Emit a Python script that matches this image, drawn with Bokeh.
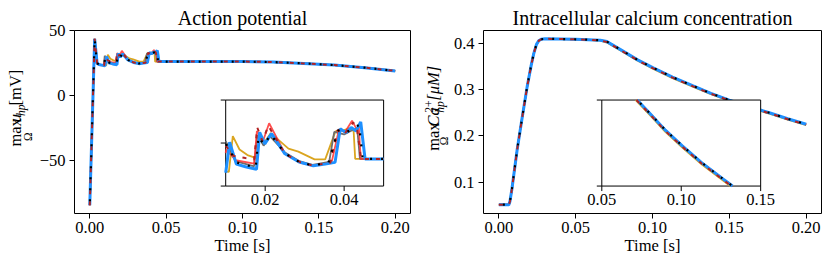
import numpy as np
from bokeh.plotting import figure
from bokeh.layouts import row
from bokeh.models import Range1d, FixedTicker, NumeralTickFormatter
from bokeh.embed import file_html
from bokeh.resources import INLINE
from bokeh.core.properties import value

FONT = "Liberation Serif"
TICK_PX = "16.5px"

# ---------------- Action potential data (time [s], max u_hp [mV]) ----------------
ap_head_t = [0.0000, 0.0032, 0.0048, 0.0060, 0.0075, 0.0088]
ap_head_v = [-84.2, 43.8, 25.0, 24.0, 23.6, 23.4]
ap_tail_t = [0.0470, 0.0600, 0.0800, 0.1000, 0.1200, 0.1400, 0.1600, 0.1800, 0.2000]
ap_tail_v = [26.3, 26.3, 26.3, 26.3, 25.9, 24.9, 23.6, 21.6, 19.1]

ap_gold_t = [0.0100, 0.0108, 0.0118, 0.0135, 0.0155, 0.0178, 0.0185, 0.0197, 0.0214, 0.0259,
             0.0284, 0.0325, 0.0352, 0.0378, 0.0400, 0.0412, 0.0424, 0.0428]
ap_gold_v = [23.4, 23.3, 31.6, 28.5, 27.2, 26.5, 31.0, 30.0, 32.3, 28.7,
             28.0, 26.2, 26.2, 32.7, 33.0, 33.4, 32.8, 26.3]

ap_gray_t = [0.0092, 0.0098, 0.0125, 0.0172, 0.0180, 0.0196, 0.0212, 0.0250, 0.0286, 0.0320,
             0.0362, 0.0375, 0.0400, 0.0425, 0.0433, 0.0440]
ap_gray_v = [23.4, 30.8, 25.8, 24.6, 31.8, 29.4, 31.6, 27.8, 25.8, 24.9,
             25.6, 32.6, 32.0, 33.2, 33.5, 26.3]

ap_red_t = [0.0095, 0.0101, 0.0125, 0.0172, 0.0179, 0.0195, 0.0210, 0.0250, 0.0290, 0.0320,
            0.0368, 0.0387, 0.0402, 0.0420, 0.0433, 0.0437, 0.0442]
ap_red_v = [23.4, 28.5, 26.0, 25.2, 32.8, 30.6, 34.6, 27.6, 25.4, 24.8,
            25.4, 33.2, 32.5, 35.2, 33.0, 34.0, 26.3]

ap_dark_t = [0.0094, 0.0100, 0.0120, 0.0150, 0.0172, 0.0180, 0.0193, 0.0208, 0.0250, 0.0290,
             0.0320, 0.0365, 0.0383, 0.0400, 0.0423, 0.0433, 0.0443]
ap_dark_v = [23.4, 29.4, 27.0, 26.5, 26.2, 33.6, 30.5, 34.0, 27.5, 25.5,
             24.8, 25.4, 33.0, 32.0, 34.8, 33.0, 26.3]

ap_blue_t = [0.0090, 0.0100, 0.0110, 0.0127, 0.0150, 0.0178, 0.0186, 0.0199, 0.0216, 0.0250,
             0.0286, 0.0322, 0.0352, 0.0377, 0.0390, 0.0405, 0.0418, 0.0430, 0.0442, 0.0453]
ap_blue_v = [23.3, 23.1, 30.2, 25.1, 24.5, 23.9, 32.5, 29.8, 32.2, 27.5,
             25.6, 24.7, 25.1, 25.5, 33.3, 32.4, 33.6, 32.8, 34.9, 26.3]

ap_black_t = [0.0094, 0.0101, 0.0127, 0.0176, 0.0183, 0.0197, 0.0214, 0.0250, 0.0286, 0.0320,
              0.0360, 0.0385, 0.0403, 0.0428, 0.0438, 0.0447]
ap_black_v = [23.4, 29.8, 25.5, 24.3, 31.5, 29.6, 32.0, 27.6, 25.6, 24.8,
              25.4, 33.0, 32.3, 33.8, 34.2, 26.3]

# ---------------- Calcium data (time [s], max Ca [uM]) ----------------
ca_t = [0.0, 0.0065, 0.0072, 0.0085, 0.0119, 0.0150, 0.0184, 0.0210, 0.0227, 0.0245,
        0.0260, 0.0275, 0.0300, 0.0500, 0.0660, 0.0703, 0.0800, 0.0900, 0.1005, 0.1130,
        0.1265, 0.1380, 0.1500, 0.1630, 0.1760, 0.1880, 0.2000]
ca_blue = [0.051, 0.051, 0.058, 0.085, 0.170, 0.236, 0.306, 0.352, 0.378, 0.398,
           0.406, 0.409, 0.410, 0.409, 0.407, 0.404, 0.385, 0.365, 0.347, 0.327,
           0.308, 0.292, 0.2775, 0.263, 0.250, 0.237, 0.225]
ca_gold = [0.051, 0.051, 0.058, 0.085, 0.170, 0.236, 0.306, 0.352, 0.378, 0.398,
           0.406, 0.409, 0.410, 0.409, 0.406, 0.402, 0.383, 0.363, 0.345, 0.325,
           0.306, 0.290, 0.2755, 0.261, 0.248, 0.235, 0.223]
ca_dark = [0.051, 0.051, 0.058, 0.085, 0.170, 0.236, 0.306, 0.352, 0.378, 0.398,
           0.406, 0.409, 0.410, 0.409, 0.4065, 0.403, 0.384, 0.364, 0.346, 0.326,
           0.307, 0.291, 0.2765, 0.262, 0.249, 0.236, 0.224]

# tick values / labels
ap_yticks = [-50, 0, 50]
ap_ylabels = {-50: "\u221250", 0: "0", 50: "50"}
ca_yticks = [0.1, 0.2, 0.3, 0.4]
time_ticks = [0.0, 0.05, 0.10, 0.15, 0.20]
ap_inset_x = (0.01, 0.05)
ap_inset_y = (20.0, 40.0)
ap_inset_xticks = [0.02, 0.04]
ap_inset_xlabels = ["0.02", "0.04"]
ap_inset_yticks = [20.0, 30.0, 40.0]
ca_inset_x = (0.05, 0.15)
ca_inset_y = (0.3, 0.4)
ca_inset_xticks = [0.05, 0.10, 0.15]
ca_inset_xlabels = ["0.05", "0.10", "0.15"]
ca_inset_yticks = [0.3, 0.4]
titles = ["Action potential", "Intracellular calcium concentration"]

# ---------------- styles ----------------
STYLES = {
    "gold": dict(line_color="#DAA520", line_width=1.8),
    "gray": dict(line_color="#6E6E6E", line_width=1.8),
    "red": dict(line_color="#FF3030", line_width=1.8, line_alpha=0.85),
    "blue": dict(line_color="#1E90FF", line_width=3.0),
    "dark": dict(line_color="#B22222", line_width=2.0, line_dash="4 7"),
    "black": dict(line_color="black", line_width=2.2, line_dash="2 9", line_dash_offset=7),
}
ORDER = ["gold", "gray", "red", "blue", "dark", "black"]

# layout (px); the page has no margin, so canvas px == picture px
FW, FH = 338, 183
TOP, BOT = 30, 54
H = TOP + FH + BOT
LF1_W, P1_L, P1_R = 36, 36, 2
LF2_W, P2_L, P2_R = 38, 33, 10


def clip_polyline(xs, ys, x0, x1, y0, y1):
    ox, oy = [], []
    for i in range(len(xs) - 1):
        ax, ay, bx, by = xs[i], ys[i], xs[i + 1], ys[i + 1]
        dx, dy = bx - ax, by - ay
        t0, t1, ok = 0.0, 1.0, True
        for pp, q in ((-dx, ax - x0), (dx, x1 - ax), (-dy, ay - y0), (dy, y1 - ay)):
            if pp == 0:
                if q < 0:
                    ok = False
                    break
            else:
                r = q / pp
                if pp < 0:
                    if r > t1:
                        ok = False
                        break
                    t0 = max(t0, r)
                else:
                    if r < t0:
                        ok = False
                        break
                    t1 = min(t1, r)
        if not ok:
            continue
        cx0, cy0 = ax + t0 * dx, ay + t0 * dy
        cx1, cy1 = ax + t1 * dx, ay + t1 * dy
        if not (ox and abs(ox[-1] - cx0) < 1e-12 and abs(oy[-1] - cy0) < 1e-12):
            if ox:
                ox.append(np.nan)
                oy.append(np.nan)
            ox.append(cx0)
            oy.append(cy0)
        ox.append(cx1)
        oy.append(cy1)
    return ox, oy


def inset_range(lo, hi, f0, f1):
    span = (hi - lo) / (f1 - f0)
    return Range1d(lo - f0 * span, lo - f0 * span + span)


def make_fig(title, yr, yticks, ml, mr):
    p = figure(width=ml + FW + mr, height=H, x_range=Range1d(-0.01, 0.21), y_range=yr,
               title=title, output_backend="svg", toolbar_location=None,
               min_border_left=ml, min_border_right=mr, min_border_top=TOP, min_border_bottom=BOT)
    p.title.text_font = FONT
    p.title.text_font_size = "20px"
    p.title.text_font_style = "normal"
    p.title.text_color = "black"
    p.title.align = "center"
    p.title.standoff = 4
    p.grid.visible = False
    p.outline_line_color = "black"
    p.outline_line_alpha = 1.0
    p.outline_line_width = 1
    p.background_fill_color = "white"
    p.border_fill_color = "white"
    for ax in (p.xaxis[0], p.yaxis[0]):
        ax.axis_line_color = None
        ax.major_tick_out = 5
        ax.major_tick_in = 0
        ax.minor_tick_out = 0
        ax.minor_tick_in = 0
        ax.major_tick_line_color = "black"
        ax.major_label_text_font = FONT
        ax.major_label_text_font_size = TICK_PX
        ax.major_label_text_color = "black"
    p.yaxis.major_label_standoff = 4
    p.xaxis.major_label_standoff = 3
    p.xaxis.ticker = FixedTicker(ticks=time_ticks)
    p.xaxis.formatter = NumeralTickFormatter(format="0.00")
    p.yaxis.ticker = FixedTicker(ticks=yticks)
    p.xaxis.axis_label = "Time [s]"
    p.xaxis.axis_label_text_font = FONT
    p.xaxis.axis_label_text_font_style = "normal"
    p.xaxis.axis_label_text_font_size = TICK_PX
    p.xaxis.axis_label_text_color = "black"
    p.xaxis.axis_label_standoff = 0
    return p


def blank_fig(w, h):
    f = figure(width=w, height=h, x_range=Range1d(0, w), y_range=Range1d(0, h), title=None,
               output_backend="svg", toolbar_location=None, x_axis_type=None, y_axis_type=None,
               min_border=0, min_border_left=0, min_border_right=0, min_border_top=0,
               min_border_bottom=0)
    f.grid.visible = False
    f.outline_line_color = None
    f.background_fill_color = "white"
    f.border_fill_color = "white"
    return f


def txt(f, s, x, y, size, style="normal", align="left", angle=np.pi / 2):
    # (x, y): text centre line / start, in the strip's own pixel coordinates
    f.text(x=[x], y=[y], text=[s], angle=angle, text_font=value(FONT),
           text_font_size=f"{size}px", text_font_style=style, text_align=align,
           text_baseline="middle", text_color="black")


def add_inset(p, series, xlim, ylim, fx, fy, xticks, xlabels, yticks):
    p.extra_x_ranges = {"ix": inset_range(xlim[0], xlim[1], fx[0], fx[1])}
    p.extra_y_ranges = {"iy": inset_range(ylim[0], ylim[1], fy[0], fy[1])}
    kw = dict(x_range_name="ix", y_range_name="iy")
    p.quad(left=[xlim[0]], right=[xlim[1]], bottom=[ylim[0]], top=[ylim[1]],
           fill_color="white", line_color="black", line_width=1, **kw)
    for name in ORDER:
        t, v = series[name]
        cx, cy = clip_polyline(t, v, xlim[0], xlim[1], ylim[0], ylim[1])
        p.line(cx, cy, **STYLES[name], **kw)
    wpx = (fx[1] - fx[0]) * FW
    hpx = (fy[1] - fy[0]) * FH
    dy = 5.0 / hpx * (ylim[1] - ylim[0])
    dx = 5.0 / wpx * (xlim[1] - xlim[0])
    p.segment(x0=xticks, x1=xticks, y0=[ylim[0]] * len(xticks), y1=[ylim[0] - dy] * len(xticks),
              line_color="black", line_width=1, **kw)
    p.segment(x0=[xlim[0]] * len(yticks), x1=[xlim[0] - dx] * len(yticks), y0=yticks, y1=yticks,
              line_color="black", line_width=1, **kw)
    p.text(x=xticks, y=[ylim[0]] * len(xticks), text=xlabels, y_offset=8,
           text_font=value(FONT), text_font_size=TICK_PX, text_align="center",
           text_baseline="top", text_color="black", **kw)


# ---------------- Left: action potential ----------------
ap_series = {
    "gold": (ap_head_t + ap_gold_t + ap_tail_t, ap_head_v + ap_gold_v + ap_tail_v),
    "gray": (ap_head_t + ap_gray_t + ap_tail_t, ap_head_v + ap_gray_v + ap_tail_v),
    "red": (ap_head_t + ap_red_t + ap_tail_t, ap_head_v + ap_red_v + ap_tail_v),
    "dark": (ap_head_t + ap_dark_t + ap_tail_t, ap_head_v + ap_dark_v + ap_tail_v),
    "blue": (ap_head_t + ap_blue_t + ap_tail_t, ap_head_v + ap_blue_v + ap_tail_v),
    "black": (ap_head_t + ap_black_t + ap_tail_t, ap_head_v + ap_black_v + ap_tail_v),
}

p1 = make_fig(titles[0], Range1d(-90.6, 50.2), ap_yticks, P1_L, P1_R)
p1.yaxis.major_label_overrides = ap_ylabels
for name in ORDER:
    t, v = ap_series[name]
    p1.line(t, v, **STYLES[name])
add_inset(p1, ap_series, ap_inset_x, ap_inset_y, (0.45, 0.92), (0.15, 0.62),
          ap_inset_xticks, ap_inset_xlabels, ap_inset_yticks)

# ---------------- Right: calcium ----------------
ca_series = {
    "gold": (ca_t, ca_gold),
    "gray": (ca_t, ca_blue),
    "red": (ca_t, ca_blue),
    "dark": (ca_t, ca_dark),
    "blue": (ca_t, ca_blue),
    "black": (ca_t, ca_blue),
}

p2 = make_fig(titles[1], Range1d(0.032, 0.428), ca_yticks, P2_L, P2_R)
p2.yaxis.formatter = NumeralTickFormatter(format="0.0")
for name in ORDER:
    t, v = ca_series[name]
    p2.line(t, v, **STYLES[name])
add_inset(p2, ca_series, ca_inset_x, ca_inset_y, (0.35, 0.82), (0.15, 0.62),
          ca_inset_xticks, ca_inset_xlabels, ca_inset_yticks)

# ---------------- y-axis label strips (middle-anchored rotated text) ----------------
cy = BOT + FH / 2          # frame centre, strip coordinates

lf1 = blank_fig(LF1_W, H)
fl = LF1_W + P1_L          # frame left, strip coordinates
y0 = cy - 47.8
txt(lf1, "max", fl - 57.1, y0, 16.5)
txt(lf1, "\u03a9", fl - 44.9, y0 + 14.2, 11.5, align="center")
txt(lf1, "u", fl - 57.1, y0 + 35.5, 16.5, "italic")
txt(lf1, "hp", fl - 51.9, y0 + 44.5, 11.5, "italic")
txt(lf1, "[mV]", fl - 57.1, y0 + 60.0, 16.5)

lf2 = blank_fig(LF2_W, H)
fl = LF2_W + P2_L
y0 = cy - 54
txt(lf2, "max", fl - 50.0, y0, 16.5)
txt(lf2, "\u03a9", fl - 39.6, y0 + 14.2, 11.5, align="center")
txt(lf2, "Ca", fl - 50.0, y0 + 35.5, 16.5, "italic")
txt(lf2, "2+", fl - 54.8, y0 + 55.5, 11.5)
txt(lf2, "hp", fl - 43.8, y0 + 55.5, 11.5, "italic")
txt(lf2, "[\u03bcM]", fl - 50.0, y0 + 73.0, 16.5, "italic")

layout = row(lf1, p1, lf2, p2)
open("out.html", "w").write(file_html(layout, INLINE))
